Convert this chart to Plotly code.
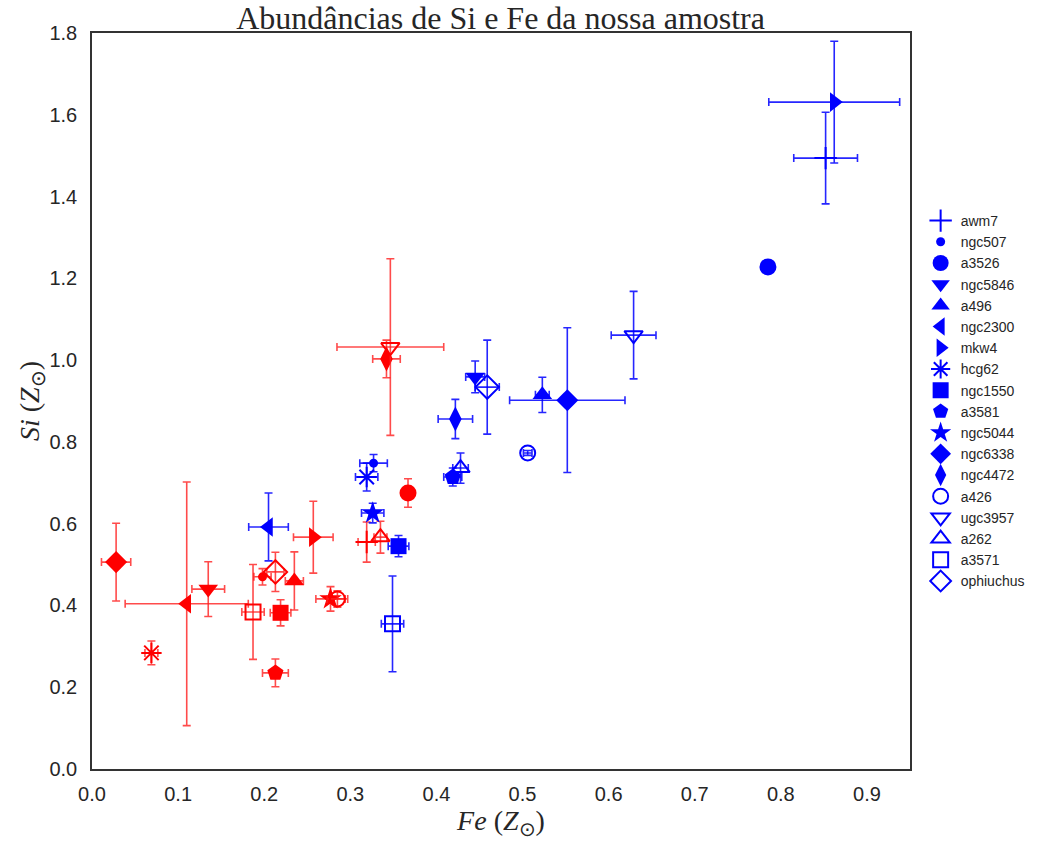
import plotly.graph_objects as go

names = ["awm7", "ngc507", "a3526", "ngc5846", "a496", "ngc2300", "mkw4", "hcg62",
         "ngc1550", "a3581", "ngc5044", "ngc6338", "ngc4472", "a426", "ugc3957",
         "a262", "a3571", "ophiuchus"]

# blue sample (central)
fe_blue = [0.852, 0.327, 0.785, 0.445, 0.523, 0.205, 0.862, 0.319, 0.356, 0.419,
           0.326, 0.552, 0.422, 0.506, 0.629, 0.428, 0.349, 0.459]
si_blue = [1.494, 0.748, 1.228, 0.959, 0.915, 0.592, 1.631, 0.714, 0.545, 0.714,
           0.626, 0.902, 0.856, 0.773, 1.061, 0.736, 0.355, 0.934]
fe_err_blue = [0.037, 0.016, 0.006, 0.011, 0.008, 0.023, 0.076, 0.013, 0.012, 0.0105,
               0.013, 0.067, 0.020, 0.005, 0.026, 0.009, 0.013, 0.014]
si_err_blue = [0.112, 0.021, 0.012, 0.039, 0.043, 0.083, 0.149, 0.034, 0.026, 0.022,
               0.024, 0.177, 0.048, 0.006, 0.107, 0.037, 0.117, 0.115]

# red sample
fe_red = [0.319, 0.198, 0.367, 0.135, 0.235, 0.110, 0.257, 0.069, 0.219, 0.213,
          0.277, 0.028, 0.342, 0.285, 0.3465, 0.335, 0.187, 0.213]
si_red = [0.555, 0.470, 0.675, 0.440, 0.460, 0.404, 0.567, 0.284, 0.382, 0.235,
          0.416, 0.506, 1.003, 0.416, 1.032, 0.567, 0.384, 0.482]
fe_err_red = [0.010, 0.010, 0.004, 0.019, 0.0105, 0.0715, 0.023, 0.0075, 0.012, 0.015,
              0.017, 0.017, 0.016, 0.012, 0.062, 0.0075, 0.013, 0.010]
si_err_red = [0.049, 0.020, 0.035, 0.067, 0.071, 0.298, 0.088, 0.029, 0.032, 0.034,
              0.030, 0.095, 0.046, 0.020, 0.216, 0.039, 0.116, 0.048]

symbols = ["cross-thin-open", "circle", "circle", "triangle-down", "triangle-up",
           "triangle-left", "triangle-right", "asterisk-open", "square", "pentagon",
           "star", "diamond", "diamond-tall", "circle-open", "triangle-down-open",
           "triangle-up-open", "square-open", "diamond-open"]
sizes = [16, 9, 17, 17, 17, 17, 17, 17, 16, 17, 17, 17, 18, 15, 16, 16, 15, 18]

fig = go.Figure()

def add(fe, si, efe, esi, color, ecolor, show):
    for i, n in enumerate(names):
        sym = symbols[i]
        fig.add_trace(go.Scatter(
            x=[fe[i]], y=[si[i]], mode="markers", name=n,
            legendgroup=n, showlegend=show,
            marker=dict(symbol=sym, size=sizes[i], color=color,
                        line=dict(color=color, width=2 if ("open" in sym) else 0)),
            error_x=dict(type="data", array=[efe[i]], color=ecolor, thickness=1.6, width=4),
            error_y=dict(type="data", array=[esi[i]], color=ecolor, thickness=1.6, width=4),
        ))

add(fe_red, si_red, fe_err_red, si_err_red, "#ff0000", "rgba(255,30,30,0.8)", False)
add(fe_blue, si_blue, fe_err_blue, si_err_blue, "#0000ff", "rgba(0,0,255,0.85)", True)

axis_common = dict(showgrid=False, zeroline=False, showline=True, linecolor="#333333",
                   linewidth=1.5, mirror=True, ticks="outside",
                   tickcolor="rgba(0,0,0,0)",
                   tickfont=dict(family="Liberation Sans, Arial", size=20, color="#262626"))

fig.update_layout(
    width=1044, height=844,
    margin=dict(l=92, r=134, t=33, b=75),
    plot_bgcolor="white", paper_bgcolor="white",
    title=dict(text="Abundâncias de Si e Fe da nossa amostra",
               font=dict(family="Liberation Serif, serif", size=32, color="#262626"),
               x=0.4795, xanchor="center", y=0.979, yanchor="middle"),
    xaxis=dict(range=[0, 0.95], dtick=0.1, tick0=0, tickformat=".1f", ticklen=6,
               title=dict(text="<i>Fe</i> (<i>Z</i><sub>⊙</sub>)",
                          font=dict(family="Liberation Serif, serif", size=28, color="#262626"),
                          standoff=6),
               **axis_common),
    yaxis=dict(range=[0, 1.8], dtick=0.2, tick0=0, tickformat=".1f", ticklen=9,
               title=dict(text="<i>Si</i> (<i>Z</i><sub>⊙</sub>)",
                          font=dict(family="Liberation Serif, serif", size=28, color="#262626"),
                          standoff=2),
               **axis_common),
    legend=dict(x=1.013, xanchor="left", y=0.5, yanchor="middle",
                font=dict(family="Liberation Sans, Arial", size=14, color="#262626"),
                bgcolor="rgba(0,0,0,0)", tracegroupgap=0),
)

fig.write_html("out.html")
